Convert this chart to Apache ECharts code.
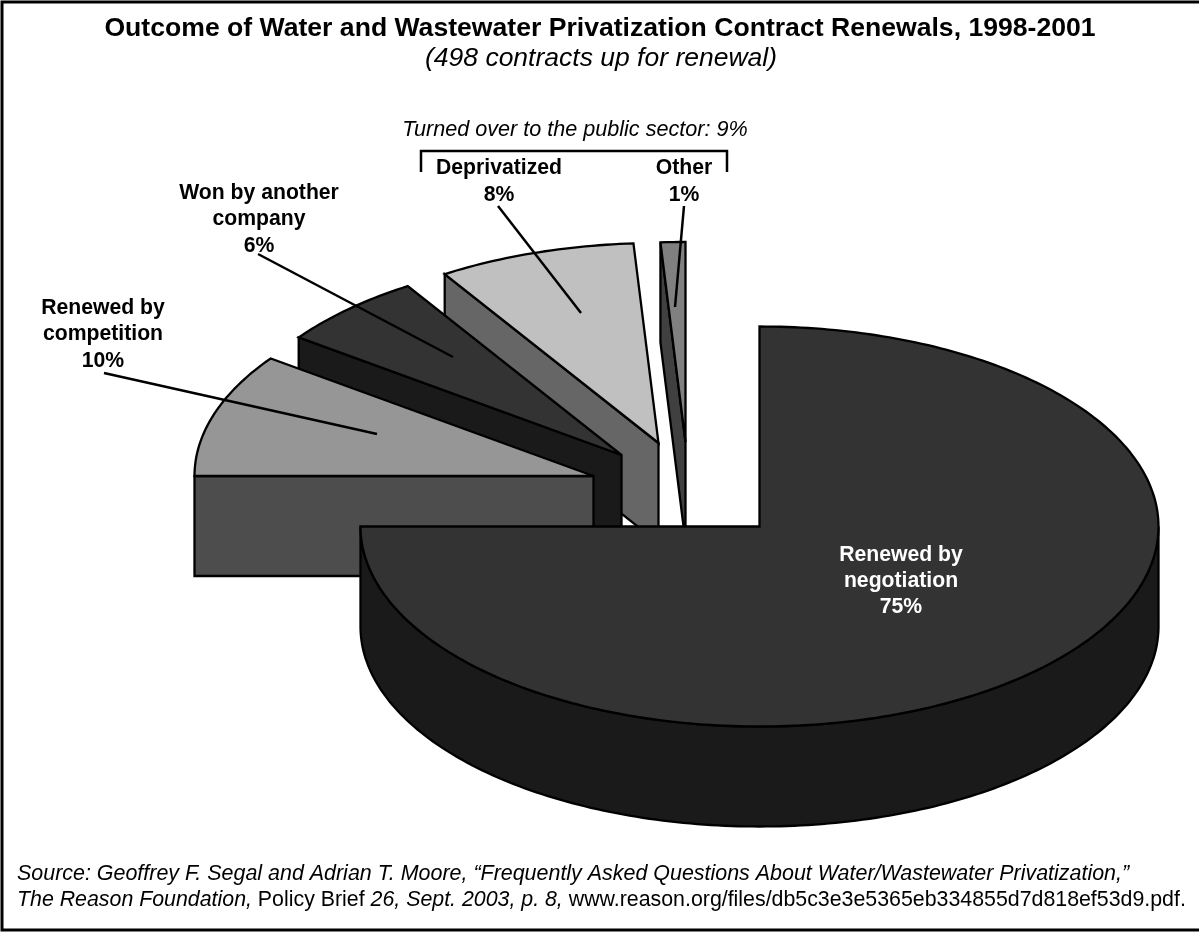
<!DOCTYPE html>
<html>
<head>
<meta charset="utf-8">
<style>html,body{margin:0;padding:0;background:#fff}#chart{width:1199px;height:932px}</style>
<script src="https://cdn.jsdelivr.net/npm/echarts@6/dist/echarts.min.js"></script>
</head>
<body>
<div id="chart"></div>
<script>
// Contract outcomes, in clockwise order from twelve o'clock
const categories = ['Renewed by negotiation', 'Renewed by competition', 'Won by another company', 'Deprivatized', 'Other'];
const shares = [75, 10, 6, 8, 1];
const topColors = ['#333333', '#969696', '#333333', '#c0c0c0', '#808080'];
const sideColors = ['#1a1a1a', '#4d4d4d', '#1a1a1a', '#666666', '#404040'];

// Pie projection: apex of each exploded wedge, ellipse radii, extrusion height
const apexes = [[759.5, 526.5], [593.5, 476], [621.5, 455], [658.5, 443], [685.5, 442]];
const RX = 399, RY = 200, DEPTH = 100;

// Wedge labels: broken name lines, centre x and the y of the first line
const labelLines = [['Renewed by', 'negotiation'], ['Renewed by', 'competition'], ['Won by another', 'company'], ['Deprivatized'], ['Other']];
const labelAnchors = [[901, 555], [103, 308], [259, 193], [499, 168], [684, 168]];
const LINE_HEIGHT = [26, 26.5, 26.5, 27, 27];
const LABEL_SIZE = 21.2;

// Leader lines from label to wedge, indexed like the categories
const leaders = [null, [104, 373, 377, 434], [258, 254, 453, 357], [498, 206, 581, 313], [684, 206, 675, 307]];

const startShares = shares.map((_, i) => shares.slice(0, i).reduce((a, b) => a + b, 0));
// Wedges are painted back to front, so the large wedge comes last
const paintOrder = [4, 3, 2, 1, 0];

function ellipsePoint(apex, deg, drop) {
  const r = deg * Math.PI / 180;
  return [apex[0] + RX * Math.sin(r), apex[1] - RY * Math.cos(r) + drop];
}

function arc(apex, a, b, drop) {
  const pts = [];
  const n = Math.max(2, Math.ceil(Math.abs(b - a)));
  for (let k = 0; k <= n; k++) pts.push(ellipsePoint(apex, a + (b - a) * k / n, drop));
  return pts;
}

function face(points, fill) {
  return {
    type: 'polygon',
    shape: { points: points },
    style: { fill: fill, stroke: '#000', lineWidth: 2.3, lineJoin: 'miter', miterLimit: 3 }
  };
}

function renderWedge(params, api) {
  const idx = api.value(0);
  const a = api.value(1) * 3.6;
  const b = a + api.value(2) * 3.6;
  const apex = apexes[idx];
  const low = [apex[0], apex[1] + DEPTH];
  const side = sideColors[idx];
  const children = [];
  const sinA = Math.sin(a * Math.PI / 180);
  const sinB = Math.sin(b * Math.PI / 180);

  // Radial wall on the leading edge, shown when it turns towards the viewer
  if (sinA < -1e-6) {
    const p = ellipsePoint(apex, a, 0), q = ellipsePoint(apex, a, DEPTH);
    children.push(face([apex, p, q, low], side));
  }
  // Radial wall on the trailing edge
  if (sinB > 1e-6) {
    const p = ellipsePoint(apex, b, 0), q = ellipsePoint(apex, b, DEPTH);
    children.push(face([apex, p, q, low], side));
  }
  // Outer rim, only the stretch that faces forward
  const rimA = Math.max(a, 90), rimB = Math.min(b, 270);
  if (rimB > rimA) {
    children.push(face(arc(apex, rimA, rimB, 0).concat(arc(apex, rimB, rimA, DEPTH)), side));
  }
  // Top of the wedge
  children.push(face([apex].concat(arc(apex, a, b, 0)), topColors[idx]));
  return { type: 'group', children: children };
}

// Labels and annotation text
const FONT = '"Liberation Sans", Arial, sans-serif';
const labelGraphics = [];
categories.forEach((name, i) => {
  const lines = labelLines[i].concat(shares[i] + '%');
  lines.forEach((line, k) => {
    labelGraphics.push({
      type: 'text', z: 20, x: labelAnchors[i][0], y: labelAnchors[i][1] + k * LINE_HEIGHT[i],
      style: { text: line, font: 'bold ' + LABEL_SIZE + 'px ' + FONT, fill: i === 0 ? '#fff' : '#000', textAlign: 'center', textVerticalAlign: 'middle' }
    });
  });
});

const leaderGraphics = leaders.filter(Boolean).map(l => ({
  type: 'line', z: 15, shape: { x1: l[0], y1: l[1], x2: l[2], y2: l[3] }, style: { stroke: '#000', lineWidth: 2.5 }
}));

const option = {
  animation: false,
  backgroundColor: '#fff',
  graphic: { elements: [
    { type: 'polyline', z: 30, shape: { points: [[1199, 2], [2, 2], [2, 930], [1199, 930]] }, style: { fill: 'none', stroke: '#000', lineWidth: 3 } },
    { type: 'text', z: 20, x: 600, y: 29, style: { text: 'Outcome of Water and Wastewater Privatization Contract Renewals, 1998-2001', font: 'bold 26.6px ' + FONT, fill: '#000', textAlign: 'center', textVerticalAlign: 'middle' } },
    { type: 'text', z: 20, x: 601, y: 59, style: { text: '(498 contracts up for renewal)', font: 'italic 26.5px ' + FONT, fill: '#000', textAlign: 'center', textVerticalAlign: 'middle' } },
    { type: 'text', z: 20, x: 575, y: 130, style: { text: 'Turned over to the public sector: 9%', font: 'italic 21.6px ' + FONT, fill: '#000', textAlign: 'center', textVerticalAlign: 'middle' } },
    { type: 'polyline', z: 15, shape: { points: [[421, 172], [421, 151], [727, 151], [727, 172]] }, style: { fill: 'none', stroke: '#000', lineWidth: 2.5 } },
    { type: 'text', z: 20, x: 17, y: 874, style: { text: 'Source: Geoffrey F. Segal and Adrian T. Moore, “Frequently Asked Questions About Water/Wastewater Privatization,”', font: 'italic 21.45px ' + FONT, fill: '#000', textVerticalAlign: 'middle' } },
    { type: 'text', z: 20, x: 17, y: 900, style: {
        text: '{i|The Reason Foundation,} {n|Policy Brief} {i|26, Sept. 2003, p. 8,} {n|www.reason.org/files/db5c3e3e5365eb334855d7d818ef53d9.pdf.}',
        fill: '#000', textVerticalAlign: 'middle', font: '21.35px ' + FONT,
        rich: { i: { font: 'italic 21.35px ' + FONT, fill: '#000' }, n: { font: '21.35px ' + FONT, fill: '#000' } }
    } }
  ].concat(leaderGraphics, labelGraphics) },
  series: [{
    type: 'custom',
    coordinateSystem: 'none',
    silent: true,
    renderItem: renderWedge,
    data: paintOrder.map(i => [i, startShares[i], shares[i]])
  }]
};

echarts.init(document.getElementById('chart'), null, { renderer: 'canvas' }).setOption(option);
</script>
</body>
</html>
